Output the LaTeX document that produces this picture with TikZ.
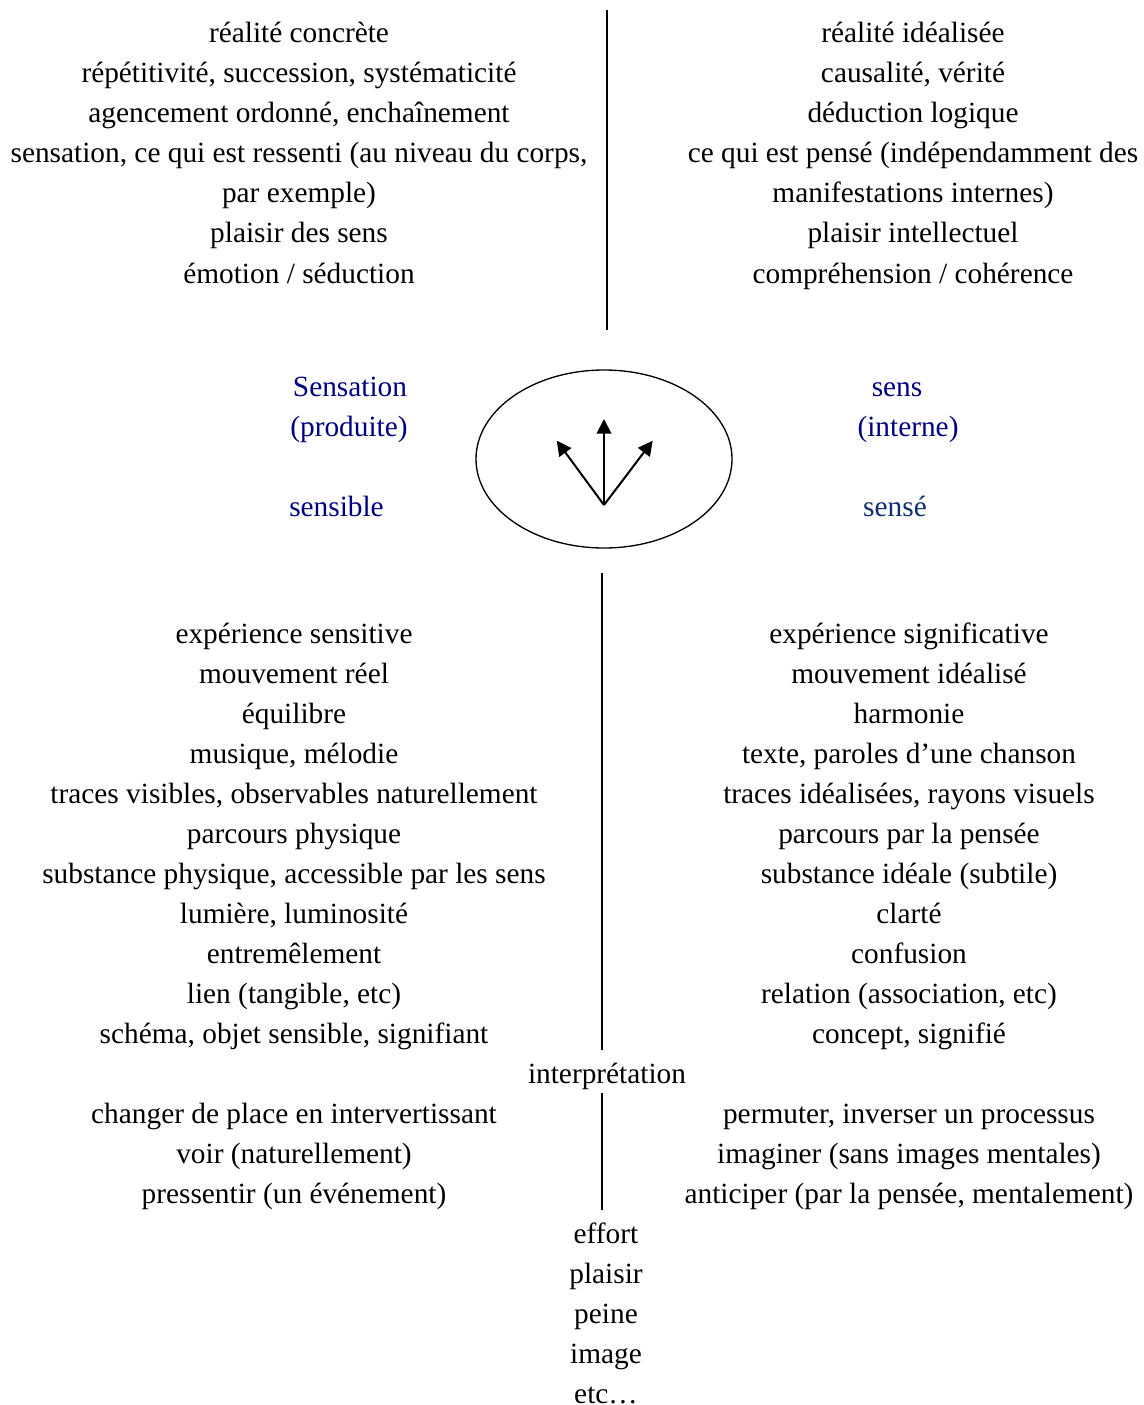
\documentclass[tikz,border=0pt]{standalone}
\usepackage{fontspec}
\setmainfont{Liberation Serif}
\usetikzlibrary{arrows.meta,shapes.geometric}
\definecolor{navytxt}{HTML}{000080}
\definecolor{darknavytxt}{HTML}{0F2F6F}
\begin{document}
\begin{tikzpicture}[x=0.75pt,y=-0.75pt,
  txt/.style={font=\fontsize{22}{30}\selectfont, inner sep=0pt, anchor=base},
  bluetxt/.style={txt, text=navytxt},
  rule/.style={line width=1.5pt},
  ray/.style={line width=1.5pt, -{Triangle[length=11pt,width=11pt]}}
]
\useasboundingbox (0,0) rectangle (1144,1405);
\fill[white] (0,0) rectangle (1144,1405);

% top left column
\foreach \t [count=\i] in {réalité concrète, {répétitivité, succession, systématicité}, {agencement ordonné, enchaînement}, {sensation, ce qui est ressenti (au niveau du corps,}, par exemple), plaisir des sens, émotion / séduction}
  \node[txt] (TL\i) at (299, 3+40*\i) {\t};

% top right column
\foreach \t [count=\i] in {réalité idéalisée, {causalité, vérité}, déduction logique, ce qui est pensé (indépendamment des, manifestations internes), plaisir intellectuel, compréhension / cohérence}
  \node[txt] (TR\i) at (913, 3+40*\i) {\t};

\coordinate (topA) at (607,10);
\coordinate (topB) at (607,330);
\draw[rule] (topA) -- (topB);

% centre
\node[draw, ellipse, line width=1pt, inner sep=0pt, minimum width=192pt, minimum height=133.5pt] (ell) at (604,459) {};
\coordinate (O) at (604,505);
\coordinate (tipL) at (556.7,440.7);
\coordinate (tipU) at (604,419);
\coordinate (tipR) at (652.7,440.7);
\draw[ray] (O) -- (tipL);
\draw[ray] (O) -- (tipU);
\draw[ray] (O) -- (tipR);

\node[bluetxt] (sensation) at (350,396) {Sensation};
\node[bluetxt] (produite) at (349,436) {(produite)};
\node[bluetxt] (sensible) at (336.5,516) {sensible};
\node[bluetxt] (sens) at (897,396) {sens};
\node[bluetxt] (interne) at (908,436) {(interne)};
\node[bluetxt, text=darknavytxt] (sense) at (895,516) {sensé};

% bottom left column
\foreach \t [count=\i] in {expérience sensitive, mouvement réel, équilibre, {musique, mélodie}, {traces visibles, observables naturellement}, parcours physique, {substance physique, accessible par les sens}, {lumière, luminosité}, entremêlement, {lien (tangible, etc)}, {schéma, objet sensible, signifiant}}
  \node[txt] (BL\i) at (294, 603+40*\i) {\t};
\foreach \t [count=\i] in {changer de place en intervertissant, voir (naturellement), pressentir (un événement)}
  \node[txt] (CL\i) at (294, 1083+40*\i) {\t};

% bottom right column
\foreach \t [count=\i] in {expérience significative, mouvement idéalisé, harmonie, {texte, paroles d’une chanson}, {traces idéalisées, rayons visuels}, parcours par la pensée, substance idéale (subtile), clarté, confusion, {relation (association, etc)}, {concept, signifié}}
  \node[txt] (BR\i) at (909, 603+40*\i) {\t};
\foreach \t [count=\i] in {{permuter, inverser un processus}, imaginer (sans images mentales), {anticiper (par la pensée, mentalement)}}
  \node[txt] (CR\i) at (909, 1083+40*\i) {\t};

\node[txt] (interp) at (607,1083) {interprétation};

\coordinate (midA) at (602,573);
\coordinate (midB) at (602,1050);
\coordinate (lowA) at (602,1093);
\coordinate (lowB) at (602,1210);
\draw[rule] (midA) -- (midB);
\draw[rule] (lowA) -- (lowB);

% bottom list
\foreach \t [count=\i] in {effort, plaisir, peine, image, etc…}
  \node[txt] (E\i) at (606, 1203+40*\i) {\t};
\end{tikzpicture}
\end{document}
